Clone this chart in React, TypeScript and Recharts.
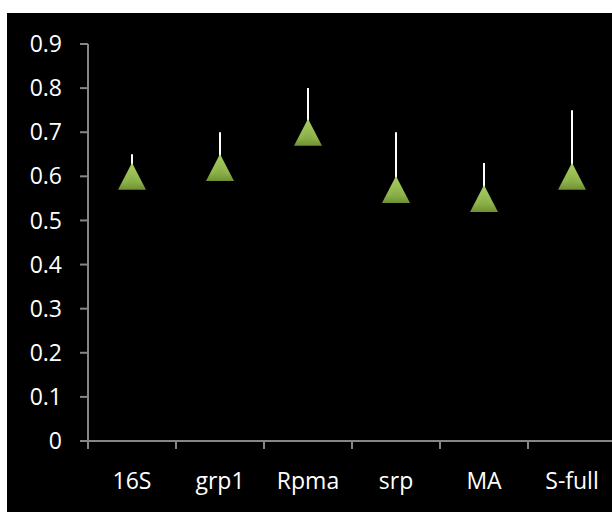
import React from 'react';
import { ComposedChart, Scatter, XAxis, YAxis, ErrorBar } from 'recharts';

const categories = ['16S', 'grp1', 'Rpma', 'srp', 'MA', 'S-full'];
const values = [0.6, 0.62, 0.7, 0.57, 0.55, 0.6];
const upperValues = [0.65, 0.7, 0.8, 0.7, 0.63, 0.75];
const yTicks = [0, 0.1, 0.2, 0.3, 0.4, 0.5, 0.6, 0.7, 0.8, 0.9];

const data = categories.map((name, i) => ({
  name,
  value: values[i],
  err: [0, +(upperValues[i] - values[i]).toFixed(4)],
}));

const AXIS = '#868686';
const FONT = '"Open Sans", sans-serif';

const Triangle = (props: any) => {
  const { cx, cy } = props;
  if (cx == null || cy == null) return null;
  const hw = 14;
  const hh = 13.5;
  const pts = `${cx},${cy - hh} ${cx + hw},${cy + hh} ${cx - hw},${cy + hh}`;
  const inner = `${cx},${cy - hh + 8} ${cx + hw - 7},${cy + hh - 3} ${cx - hw + 7},${cy + hh - 3}`;
  return (
    <g>
      <polygon points={pts} fill="url(#triGrad)" />
      <polygon points={inner} fill="url(#triInner)" opacity={0.5} />
    </g>
  );
};

const CatTick = (props: any) => {
  const { x, y, payload, index, visibleTicksCount, width } = props;
  const count = visibleTicksCount || categories.length;
  const half =
    payload && typeof payload.offset === 'number' && payload.offset > 0
      ? payload.offset
      : (width || 0) / count / 2;
  const isLast = index === count - 1;
  return (
    <g>
      <line x1={x - half} x2={x - half} y1={y} y2={y + 8} stroke={AXIS} strokeWidth={2} />
      {isLast && (
        <line x1={x + half} x2={x + half} y1={y} y2={y + 8} stroke={AXIS} strokeWidth={2} />
      )}
      <text
        x={x}
        y={y + 32}
        dy="0.71em"
        textAnchor="middle"
        fill="#ffffff"
        fontSize={23}
        fontFamily={FONT}
      >
        {payload.value}
      </text>
    </g>
  );
};

export default function App() {
  return (
    <div
      style={{
        position: 'absolute',
        left: 7,
        top: 13,
        width: 605,
        height: 499,
        background: '#000',
        overflow: 'hidden',
      }}
    >
      <ComposedChart
        width={609}
        height={499}
        data={data}
        margin={{ top: 31, right: 0, left: 0, bottom: 0 }}
        style={{ fontFamily: FONT }}
      >
        <defs>
          <linearGradient id="triGrad" x1="0" y1="0" x2="0" y2="1">
            <stop offset="0%" stopColor="#a9cf63" />
            <stop offset="70%" stopColor="#8db34a" />
            <stop offset="100%" stopColor="#6e8f33" />
          </linearGradient>
          <linearGradient id="triInner" x1="0" y1="0" x2="0" y2="1">
            <stop offset="0%" stopColor="#9cc255" />
            <stop offset="100%" stopColor="#7a9c3c" />
          </linearGradient>
        </defs>
        <XAxis
          dataKey="name"
          type="category"
          scale="band"
          height={71}
          axisLine={{ stroke: AXIS, strokeWidth: 2 }}
          tickLine={false}
          tickSize={0}
          tickMargin={0}
          interval={0}
          tick={<CatTick />}
        />
        <YAxis
          type="number"
          domain={[0, 0.9]}
          ticks={yTicks}
          width={81}
          tickSize={8}
          tickMargin={18}
          interval={0}
          axisLine={{ stroke: AXIS, strokeWidth: 2 }}
          tickLine={{ stroke: AXIS, strokeWidth: 2 }}
          tick={{ fill: '#ffffff', fontSize: 23, fontFamily: FONT }}
        />
        <Scatter dataKey="value" shape={Triangle} isAnimationActive={false}>
          <ErrorBar
            dataKey="err"
            direction="y"
            width={0}
            stroke="#ffffff"
            strokeWidth={2}
            isAnimationActive={false}
          />
        </Scatter>
      </ComposedChart>
    </div>
  );
}
